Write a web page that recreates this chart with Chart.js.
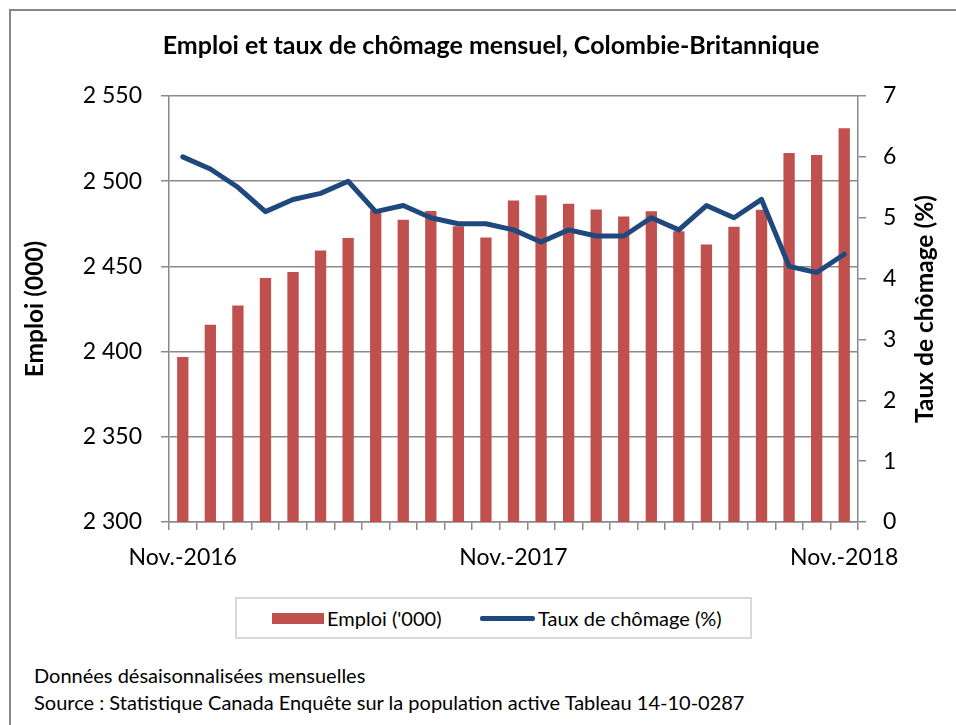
<!DOCTYPE html>
<html lang="fr">
<head>
<meta charset="utf-8">
<title>Emploi et taux de chômage mensuel, Colombie-Britannique</title>
<script src="https://cdn.jsdelivr.net/npm/chart.js@4.4.1/dist/chart.umd.min.js"></script>
<style>
  body { margin: 0; background: #fff; font-family: Lato, sans-serif; }
  .frame { position: absolute; left: 9px; top: 9px; width: 947px; height: 716px; border-left: 2px solid #868686; border-top: 2px solid #868686; box-sizing: border-box; }
  .chart-box { position: absolute; left: 0; top: 0; width: 956px; height: 580px; }
  .legend { position: absolute; left: 235px; top: 597px; width: 517px; height: 42px; box-sizing: border-box; border: 2px solid #d9d9d9; display: flex; align-items: center; font-size: 20px; color: #000; }
  .legend .item { display: flex; align-items: center; position: absolute; }
  .swatch-bar { width: 52px; height: 11px; background: #C0504D; margin-right: 3px; }
  .swatch-line { width: 55px; height: 5px; background: #1F497D; margin-right: 3px; border-radius: 2px; }
  .note { position: absolute; left: 34px; font-size: 20px; line-height: 27px; color: #000; white-space: nowrap; }
</style>
</head>
<body>
<div class="frame"></div>
<div class="chart-box"><canvas id="chart"></canvas></div>
<div class="legend">
  <div class="item" style="left:35px"><span class="swatch-bar"></span>Emploi ('000)</div>
  <div class="item" style="left:243px"><span class="swatch-line"></span>Taux de chômage (%)</div>
</div>
<div class="note" style="top:662px">Données désaisonnalisées mensuelles</div>
<div class="note" style="top:689px">Source : Statistique Canada Enquête sur la population active Tableau 14-10-0287</div>
<script>
const months = ['Nov.-2016', 'Déc.-2016', 'Janv.-2017', 'Févr.-2017', 'Mars-2017', 'Avr.-2017',
  'Mai-2017', 'Juin-2017', 'Juil.-2017', 'Août-2017', 'Sept.-2017', 'Oct.-2017', 'Nov.-2017',
  'Déc.-2017', 'Janv.-2018', 'Févr.-2018', 'Mars-2018', 'Avr.-2018', 'Mai-2018', 'Juin-2018',
  'Juil.-2018', 'Août-2018', 'Sept.-2018', 'Oct.-2018', 'Nov.-2018'];
const emploi = [2396.9, 2415.8, 2427.1, 2443.2, 2446.7, 2459.4, 2466.6, 2482.9, 2477.4, 2482.5,
  2473.5, 2466.9, 2488.7, 2491.8, 2486.7, 2483.4, 2479.3, 2482.3, 2470.7, 2462.9, 2473.2, 2483.2,
  2516.6, 2515.4, 2531.1];
const chomage = [6.0, 5.8, 5.5, 5.1, 5.3, 5.4, 5.6, 5.1, 5.2, 5.0, 4.9, 4.9, 4.8, 4.6, 4.8, 4.7,
  4.7, 5.0, 4.8, 5.2, 5.0, 5.3, 4.2, 4.1, 4.4];
const shownLabels = [0, 12, 24];

const gridGray = '#8a8a8a';
Chart.defaults.font.family = 'Lato';
Chart.defaults.color = '#000';

// chart title (sits a bit right of centre, like the original) and right
// axis title, which reads bottom-to-top like the left one
const extraText = {
  id: 'extraText',
  afterDraw(chart) {
    const ctx = chart.ctx;
    const area = chart.chartArea;
    ctx.save();
    ctx.fillStyle = '#000';
    ctx.textAlign = 'center';
    ctx.textBaseline = 'middle';
    ctx.font = 'bold 25px Lato';
    ctx.fillText('Emploi et taux de chômage mensuel, Colombie-Britannique', 491, 46);
    ctx.translate(925, (area.top + area.bottom) / 2);
    ctx.rotate(-Math.PI / 2);
    ctx.font = 'bold 24.5px Lato';
    ctx.fillText('Taux de chômage (%)', 0, 0);
    ctx.restore();
  }
};

new Chart(document.getElementById('chart'), {
  type: 'bar',
  data: {
    labels: months,
    datasets: [
      {
        type: 'line',
        label: 'Taux de chômage (%)',
        data: chomage,
        yAxisID: 'y1',
        borderColor: '#1F497D',
        borderWidth: 5,
        borderCapStyle: 'round',
        borderJoinStyle: 'round',
        pointRadius: 0,
        tension: 0,
        order: 0
      },
      {
        label: "Emploi ('000)",
        data: emploi,
        yAxisID: 'y',
        backgroundColor: '#C0504D',
        barPercentage: 0.41,
        categoryPercentage: 1,
        order: 1
      }
    ]
  },
  options: {
    responsive: true,
    maintainAspectRatio: false,
    animation: false,
    layout: { padding: { top: 96 } },
    plugins: {
      legend: { display: false },
      tooltip: { enabled: false },
      title: { display: false }
    },
    scales: {
      x: {
        afterFit: s => { s.height = 58; },
        grid: { offset: true, drawOnChartArea: false, tickLength: 8, color: gridGray, lineWidth: 1.5 },
        border: { color: gridGray, width: 1.5 },
        ticks: {
          autoSkip: false,
          maxRotation: 0,
          padding: 14,
          font: { size: 23 },
          callback: (v, i) => shownLabels.includes(i) ? months[i] : ''
        }
      },
      y: {
        position: 'left',
        min: 2300,
        max: 2550,
        afterFit: s => { s.width = 169; },
        grid: { tickLength: 8, color: gridGray, lineWidth: 1.5 },
        border: { color: gridGray, width: 1.5 },
        ticks: {
          stepSize: 50,
          padding: 19,
          font: { size: 23 },
          callback: v => String(v).replace(/\B(?=(\d{3})+(?!\d))/g, ' ')
        },
        title: {
          display: true,
          text: 'Emploi (000)',
          font: { size: 24.5, weight: 'bold' },
          padding: { top: 20 }
        }
      },
      y1: {
        position: 'right',
        min: 0,
        max: 7,
        afterFit: s => { s.width = 98; },
        grid: { drawOnChartArea: false, tickLength: 8, color: gridGray, lineWidth: 1.5 },
        border: { color: gridGray, width: 1.5 },
        ticks: { stepSize: 1, padding: 17, font: { size: 23 } }
      }
    }
  },
  plugins: [extraText]
});
</script>
</body>
</html>
